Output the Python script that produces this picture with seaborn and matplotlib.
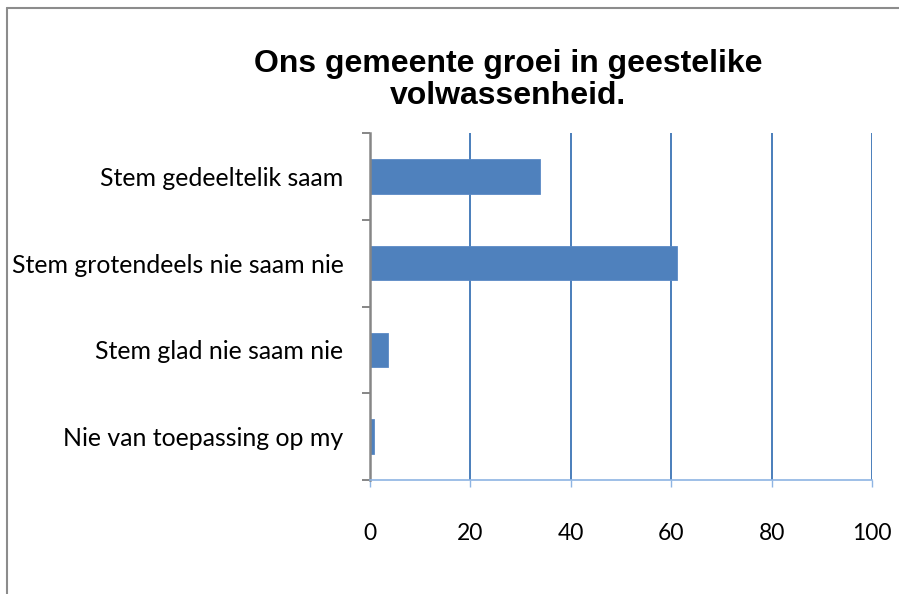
import matplotlib
matplotlib.use("Agg")
import matplotlib.pyplot as plt
import seaborn as sns
import pandas as pd
from matplotlib.lines import Line2D

categories = ["Stem gedeeltelik saam", "Stem grotendeels nie saam nie",
              "Stem glad nie saam nie", "Nie van toepassing op my"]
values = [33.8, 61.2, 3.6, 0.7]
x_ticks = [0, 20, 40, 60, 80, 100]
title = "Ons gemeente groei in geestelike\nvolwassenheid."

sns.set_theme(style="white")
plt.rcParams['font.family'] = ['Lato', 'DejaVu Sans']

W, H = 899, 594
fig = plt.figure(figsize=(W / 100, H / 100), dpi=100)
ax = fig.add_axes([370 / W, 1 - 480 / H, (872 - 370) / W, (480 - 133) / H])

df = pd.DataFrame({"cat": categories, "val": values})
sns.barplot(data=df, x="val", y="cat", orient="h", color="#4F81BD",
            saturation=1, width=0.4, ax=ax, edgecolor="#5B8AC6", linewidth=0.6)

ax.set_xlim(0, 100)
ax.set_ylim(3.5, -0.5)
ax.set_xlabel("")
ax.set_ylabel("")

# gridlines
ax.set_xticks(x_ticks)
ax.set_xticklabels([str(t) for t in x_ticks], fontsize=16.5, color="black")
ax.xaxis.grid(True, color="#4A7EBB", linewidth=1.4)
ax.set_axisbelow(True)
ax.tick_params(axis="x", direction="out", length=5, width=1.0, color="#8EB4E3",
               pad=26, bottom=True)

# y ticks at category boundaries, labels at centers
ax.set_yticks([-0.5, 0.5, 1.5, 2.5, 3.5])
ax.set_yticklabels([])
ax.set_yticks(range(len(categories)), minor=True)
ax.set_yticklabels(categories, minor=True, fontsize=17.9, color="black")
ax.tick_params(axis="y", which="major", direction="out", length=6, width=1.4,
               color="#868686", left=True)
ax.tick_params(axis="y", which="minor", length=0, pad=19)

for s in ["top", "right"]:
    ax.spines[s].set_visible(False)
ax.spines["left"].set_color("#868686")
ax.spines["left"].set_linewidth(1.8)
ax.spines["bottom"].set_color("#8EB4E3")
ax.spines["bottom"].set_linewidth(1.2)

fig.text(508 / W, 1 - 80 / H, title, ha="center", va="center", fontsize=23,
         fontweight="bold", family=["Liberation Sans", "DejaVu Sans"],
         linespacing=1.12, color="black")

# chart border (top and left edges)
fig.add_artist(Line2D([7 / W, 1], [1 - 8 / H, 1 - 8 / H], color="#8C8C8C",
                      linewidth=1.5, transform=fig.transFigure))
fig.add_artist(Line2D([7 / W, 7 / W], [0, 1 - 8 / H], color="#8C8C8C",
                      linewidth=1.5, transform=fig.transFigure))

fig.savefig("out.png", dpi=100, facecolor="white")
